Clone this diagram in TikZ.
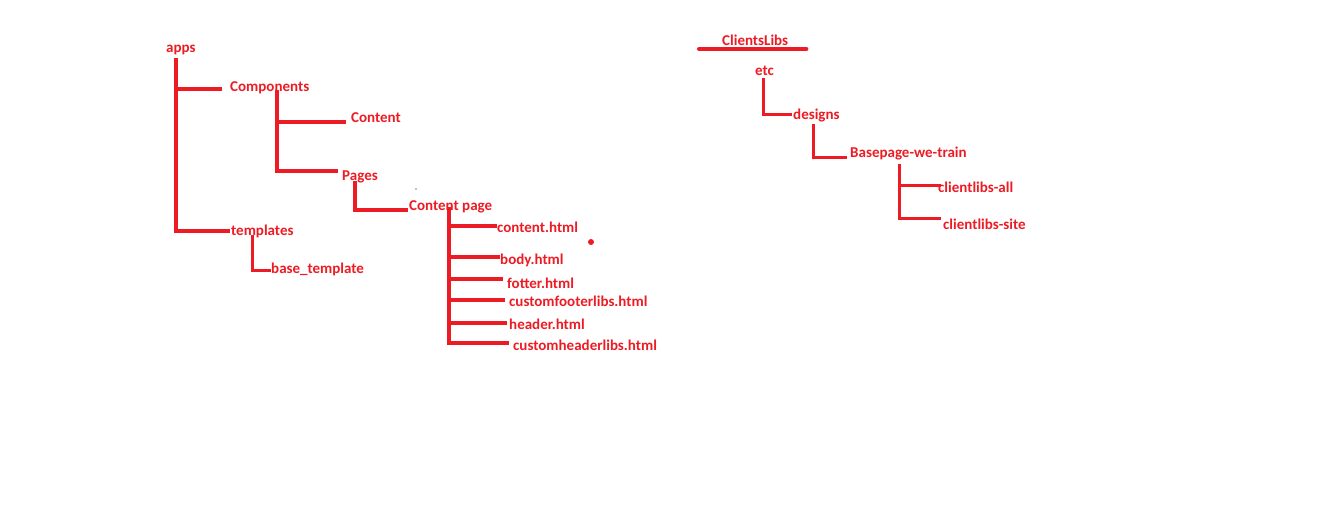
\documentclass[tikz,border=0pt]{standalone}
\usepackage{fontspec}
\setmainfont{Carlito}
\definecolor{paintred}{HTML}{ED1C24}

\tikzset{
	folder/.style={font=\bfseries\fontsize{15}{17}\selectfont, text=paintred, inner sep=0pt, anchor=base west},
	branch/.style={draw=paintred, line width=4pt},
	thinbranch/.style={draw=paintred, line width=3pt},
}

\begin{document}
\begin{tikzpicture}[x=1pt,y=-1pt]
	\path[fill=white] (0,0) rectangle (1329,513);
	\useasboundingbox (0,0) rectangle (1329,513);

	% apps tree
	\node[folder] (apps) at (166,53) {apps};
	\node[folder] (components) at (230,92) {Components};
	\node[folder] (content) at (351,123) {Content};
	\node[folder] (pages) at (342,181) {Pages};
	\node[folder] (contentpage) at (409,210) {Content page};
	\node[folder] (contenthtml) at (497,232) {content.html};
	\node[folder] (bodyhtml) at (500,264) {body.html};
	\node[folder] (fotterhtml) at (507,288) {fotter.html};
	\node[folder] (customfooter) at (509,306) {customfooterlibs.html};
	\node[folder] (headerhtml) at (509,329) {header.html};
	\node[folder] (customheader) at (513,350) {customheaderlibs.html};
	\node[folder] (templates) at (231,235) {templates};
	\node[folder] (basetemplate) at (271,273) {base\_template};

	\draw[branch, line width=4.5pt] ([shift={(10,5)}]apps.base west) |- ([shift={(-8,-3)}]components.base west);
	\draw[branch, line width=4.5pt] ([shift={(10,5)}]apps.base west) |- ([shift={(-1,-4)}]templates.base west);
	\draw[branch] ([shift={(47,-2)}]components.base west) |- ([shift={(-5,-1)}]content.base west);
	\draw[branch] ([shift={(47,-2)}]components.base west) |- ([shift={(-4,-10)}]pages.base west);
	\draw[branch] ([shift={(13,0)}]pages.base west) |- ([shift={(-1,0)}]contentpage.base west);
	\draw[branch] ([shift={(40,-3)}]contentpage.base west) |- ([shift={(0,-6)}]contenthtml.base west);
	\draw[branch] ([shift={(40,-3)}]contentpage.base west) |- ([shift={(0,-7)}]bodyhtml.base west);
	\draw[branch] ([shift={(40,-3)}]contentpage.base west) |- ([shift={(-4,-9)}]fotterhtml.base west);
	\draw[branch] ([shift={(40,-3)}]contentpage.base west) |- ([shift={(-4,-6)}]customfooter.base west);
	\draw[branch] ([shift={(40,-3)}]contentpage.base west) |- ([shift={(-2,-6)}]headerhtml.base west);
	\draw[branch] ([shift={(40,-3)}]contentpage.base west) |- ([shift={(-4,-7)}]customheader.base west);
	\draw[thinbranch] ([shift={(21,0)}]templates.base west) |- ([shift={(0,-3)}]basetemplate.base west);

	% ClientsLibs tree
	\node[folder] (clientslibs) at (722,46) {ClientsLibs};
	\node[folder] (etc) at (755,76) {etc};
	\node[folder] (designs) at (793,120) {designs};
	\node[folder] (basepage) at (850,158) {Basepage-we-train};
	\node[folder] (clientlibsall) at (938,193) {clientlibs-all};
	\node[folder] (clientlibssite) at (943,229) {clientlibs-site};

	\draw[branch, line cap=round] ([shift={(-23,3)}]clientslibs.base west) -- ([shift={(18,3)}]clientslibs.base east);
	\draw[thinbranch] ([shift={(8,2)}]etc.base west) |- ([shift={(-1,-5)}]designs.base west);
	\draw[thinbranch] ([shift={(20,4)}]designs.base west) |- ([shift={(-3,0)}]basepage.base west);
	\draw[thinbranch] ([shift={(49,6)}]basepage.base west) |- ([shift={(3,-8)}]clientlibsall.base west);
	\draw[thinbranch] ([shift={(49,6)}]basepage.base west) |- ([shift={(-2,-11)}]clientlibssite.base west);

	% stray marks
	\fill[paintred] (591,242) circle (3pt);
	\fill[black] (416,189) circle (0.7pt);
\end{tikzpicture}
\end{document}
